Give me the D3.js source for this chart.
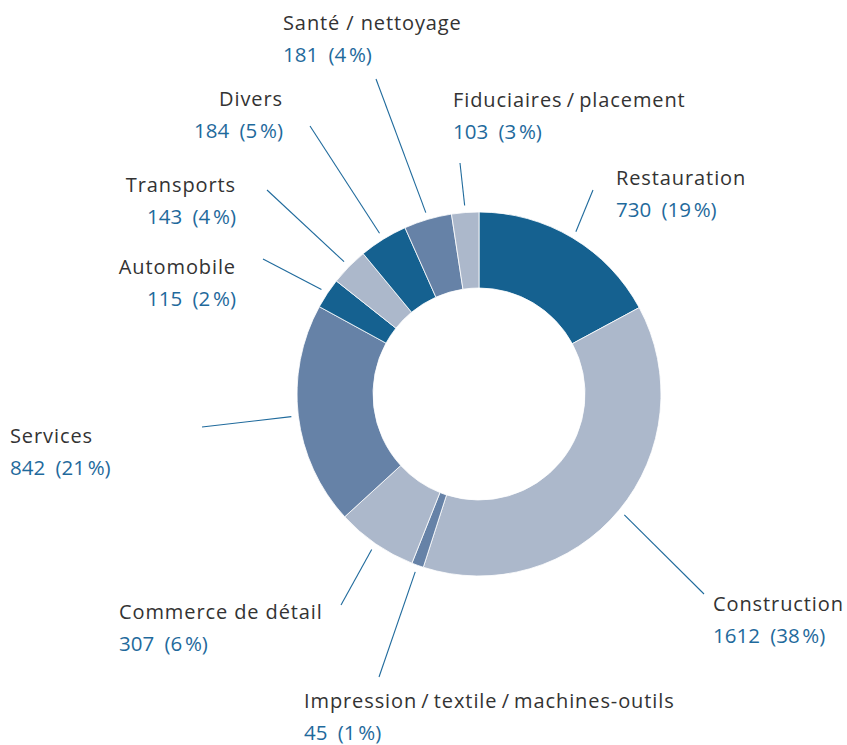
<!DOCTYPE html>
<html>
<head>
<meta charset="utf-8">
<script src="https://cdn.jsdelivr.net/npm/d3@7"></script>
<style>
  html, body { margin: 0; padding: 0; background: #fff; }
  svg text { font-family: "Open Sans", "Noto Sans", sans-serif; font-size: 20px; letter-spacing: 0.9px; }
  svg text.figure { font-size: 20.5px; letter-spacing: 1.7px; word-spacing: 5px; }
</style>
</head>
<body>
<div id="chart"></div>
<script>
// Donut of entries by sector, clockwise from 12 o'clock.
const categories = [
  "Restauration", "Construction", "Impression\u2009/\u2009textile\u2009/\u2009machines-outils",
  "Commerce de détail", "Services", "Automobile", "Transports", "Divers",
  "Santé / nettoyage", "Fiduciaires\u2009/\u2009placement"
];
const values = [730, 1612, 45, 307, 842, 115, 143, 184, 181, 103];
const percent_labels = ["19", "38", "1", "6", "21", "2", "4", "5", "4", "3"];
const tone = ["dark", "light", "mid", "light", "mid", "dark", "light", "dark", "mid", "light"];

const palette = { dark: "#156190", mid: "#6682a7", light: "#acb8cb" };
const text_color = "#333333";
const number_color = "#1f6a9c";

// Label placement: text anchor point, alignment, and where the leader line ends.
const label_layout = [
  { x: 616, y: 185, anchor: "start", end: [593, 190] },
  { x: 713, y: 611, anchor: "start", end: [704, 594] },
  { x: 304, y: 708, anchor: "start", end: [379, 677] },
  { x: 119, y: 619, anchor: "start", end: [341, 605] },
  { x: 10,  y: 443, anchor: "start", end: [202, 427] },
  { x: 236, y: 274, anchor: "end",   end: [263, 259] },
  { x: 236, y: 192, anchor: "end",   end: [267, 190] },
  { x: 283, y: 106, anchor: "end",   end: [310, 126] },
  { x: 283, y: 30,  anchor: "start", end: [376, 79] },
  { x: 453, y: 107, anchor: "start", end: [460, 163] },
];

const width = 847, height = 745;
const cx = 479, cy = 394;
const outer_radius = 182, inner_radius = 106;

const svg = d3.select("#chart").append("svg")
  .attr("width", width)
  .attr("height", height)
  .attr("viewBox", `0 0 ${width} ${height}`);

const pie = d3.pie().sort(null).value((d) => d.value);
const slices = pie(categories.map((name, index) => ({ name, value: values[index], index })));

const arc = d3.arc().innerRadius(inner_radius).outerRadius(outer_radius);
const leader_arc = d3.arc().innerRadius(189).outerRadius(189);

const ring = svg.append("g").attr("transform", `translate(${cx},${cy})`);
ring.selectAll("path")
  .data(slices)
  .join("path")
  .attr("d", arc)
  .attr("fill", (d) => palette[tone[d.data.index]])
  .attr("stroke", "#fff")
  .attr("stroke-width", 0.8);

svg.append("g")
  .selectAll("line")
  .data(slices)
  .join("line")
  .attr("x1", (d) => cx + leader_arc.centroid(d)[0])
  .attr("y1", (d) => cy + leader_arc.centroid(d)[1])
  .attr("x2", (d) => label_layout[d.data.index].end[0])
  .attr("y2", (d) => label_layout[d.data.index].end[1])
  .attr("stroke", number_color)
  .attr("stroke-width", 1.1);

const labels = svg.append("g")
  .selectAll("g")
  .data(slices)
  .join("g")
  .attr("transform", (d) => `translate(${label_layout[d.data.index].x},${label_layout[d.data.index].y})`)
  .attr("text-anchor", (d) => label_layout[d.data.index].anchor);

labels.append("text")
  .attr("fill", text_color)
  .text((d) => d.data.name);

labels.append("text")
  .attr("class", "figure")
  .attr("y", 32)
  .attr("fill", number_color)
  .text((d) => `${d.data.value} (${percent_labels[d.data.index]}\u202F%)`);
</script>
</body>
</html>
